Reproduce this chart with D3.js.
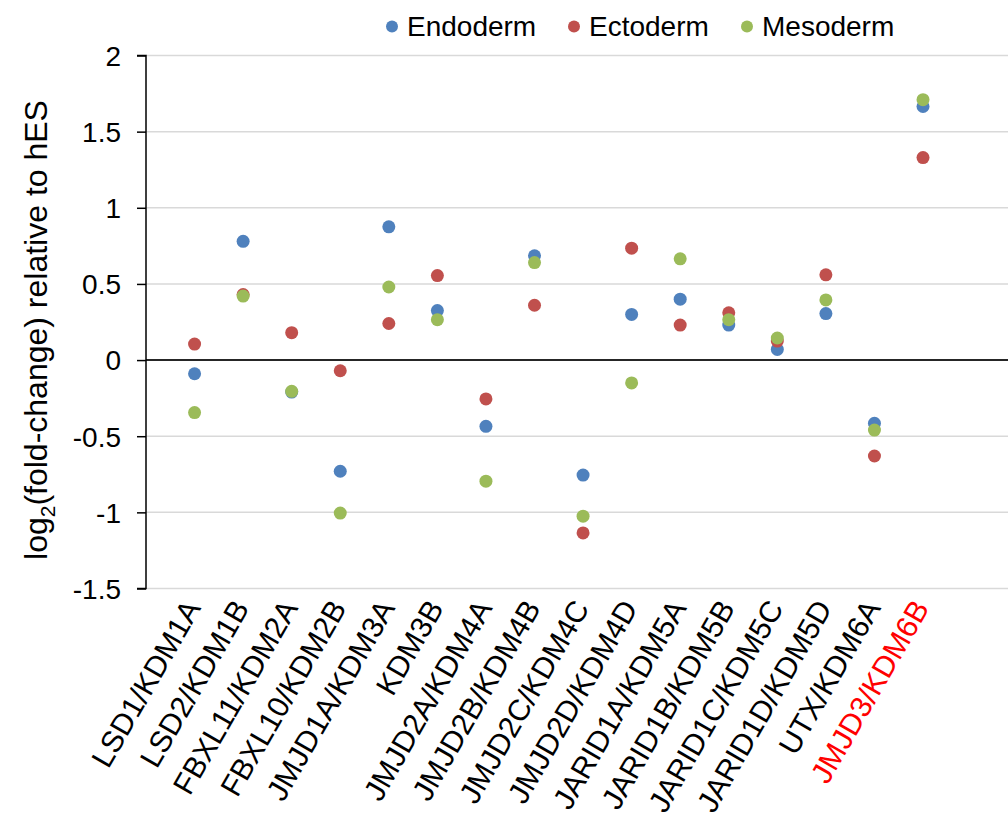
<!DOCTYPE html>
<html>
<head>
<meta charset="utf-8">
<script src="https://cdn.jsdelivr.net/npm/d3@7"></script>
<style>
  body { margin: 0; background: #fff; }
  svg { display: block; font-family: Arial, "Liberation Sans", sans-serif; }
</style>
</head>
<body>
<div id="chart"></div>
<script>
// categories (demethylases), last one highlighted in red
const genes = ["LSD1/KDM1A", "LSD2/KDM1B", "FBXL11/KDM2A", "FBXL10/KDM2B", "JMJD1A/KDM3A",
  "KDM3B", "JMJD2A/KDM4A", "JMJD2B/KDM4B", "JMJD2C/KDM4C", "JMJD2D/KDM4D",
  "JARID1A/KDM5A", "JARID1B/KDM5B", "JARID1C/KDM5C", "JARID1D/KDM5D", "UTX/KDM6A", "JMJD3/KDM6B"];
const highlighted = ["JMJD3/KDM6B"];

// log2 fold-change vs hES
const endoderm = [-0.09, 0.78, -0.21, -0.73, 0.875, 0.325, -0.435, 0.685, -0.755, 0.30, 0.40, 0.23, 0.07, 0.305, -0.415, 1.665];
const ectoderm = [0.105, 0.43, 0.18, -0.07, 0.24, 0.555, -0.255, 0.36, -1.135, 0.735, 0.23, 0.31, 0.125, 0.56, -0.63, 1.33];
const mesoderm = [-0.345, 0.42, -0.205, -1.005, 0.48, 0.265, -0.795, 0.64, -1.025, -0.15, 0.665, 0.265, 0.145, 0.395, -0.46, 1.71];

const seriesNames = ["Endoderm", "Ectoderm", "Mesoderm"];
const seriesColors = ["#4F81BD", "#C0504D", "#9BBB59"];
const yTicks = [-1.5, -1, -0.5, 0, 0.5, 1, 1.5, 2];

const series = [endoderm, ectoderm, mesoderm].map((vals, k) => ({
  name: seriesNames[k],
  color: seriesColors[k],
  values: vals.map((v, i) => ({ gene: genes[i], idx: i + 1, value: v }))
}));

const W = 1008, H = 831;
const plot = { left: 146, right: 1008, top: 55.5, bottom: 588.5 };

const svg = d3.select("#chart").append("svg")
  .attr("width", W)
  .attr("height", H);

const x = d3.scaleLinear()
  .domain([0, 17.75])
  .range([plot.left, plot.right]);

const y = d3.scaleLinear()
  .domain([-1.5, 2])
  .range([plot.bottom, plot.top]);

// gridlines
svg.append("g")
  .selectAll("line")
  .data(yTicks.filter(d => d !== 0))
  .enter().append("line")
  .attr("x1", plot.left)
  .attr("x2", plot.right)
  .attr("y1", d => y(d))
  .attr("y2", d => y(d))
  .attr("stroke", "#D9D9D9")
  .attr("stroke-width", 1.5);

// zero line
svg.append("line")
  .attr("x1", plot.left)
  .attr("x2", plot.right)
  .attr("y1", y(0))
  .attr("y2", y(0))
  .attr("stroke", "#262626")
  .attr("stroke-width", 2);

// y axis
const yAxis = svg.append("g")
  .attr("transform", `translate(${plot.left},0)`)
  .call(d3.axisLeft(y).tickValues(yTicks).tickSize(9).tickPadding(16).tickFormat(d => String(d)));
yAxis.select(".domain").attr("stroke", "#000").attr("stroke-width", 1.5)
  .attr("d", `M-9,${y(2)}H0V${y(-1.5)}H-9`);
yAxis.selectAll(".tick line").attr("stroke", "#000").attr("stroke-width", 1.5);
yAxis.selectAll(".tick text")
  .style("font-size", "28px")
  .attr("fill", "#000")
  .attr("dy", "0.35em");

// y title
const yTitle = svg.append("text")
  .attr("transform", `translate(47,330) rotate(-90)`)
  .attr("text-anchor", "middle")
  .style("font-size", "32px")
  .attr("fill", "#000");
yTitle.append("tspan").text("log");
yTitle.append("tspan").attr("dy", 8).style("font-size", "21px").text("2");
yTitle.append("tspan").attr("dy", -8).text("(fold-change) relative to hES");

// x labels
svg.append("g")
  .selectAll("text")
  .data(genes)
  .enter().append("text")
  .attr("transform", (d, i) => `translate(${x(i + 1) + 7},${608}) rotate(-60)`)
  .attr("text-anchor", "end")
  .style("font-size", "30px")
  .attr("fill", d => highlighted.includes(d) ? "#FF0000" : "#000")
  .text(d => d);

// points
series.forEach(s => {
  svg.append("g")
    .selectAll("circle")
    .data(s.values)
    .enter().append("circle")
    .attr("cx", d => x(d.idx))
    .attr("cy", d => y(d.value))
    .attr("r", 6.5)
    .attr("fill", s.color);
});

// legend
const legendX = [392, 574, 747];
const legend = svg.append("g")
  .selectAll("g")
  .data(series)
  .enter().append("g")
  .attr("transform", (d, i) => `translate(${legendX[i]},26.5)`);
legend.append("circle")
  .attr("r", 6)
  .attr("fill", d => d.color);
legend.append("text")
  .attr("x", 15)
  .attr("dy", "0.35em")
  .style("font-size", "28px")
  .attr("fill", "#000")
  .text(d => d.name);
</script>
</body>
</html>
